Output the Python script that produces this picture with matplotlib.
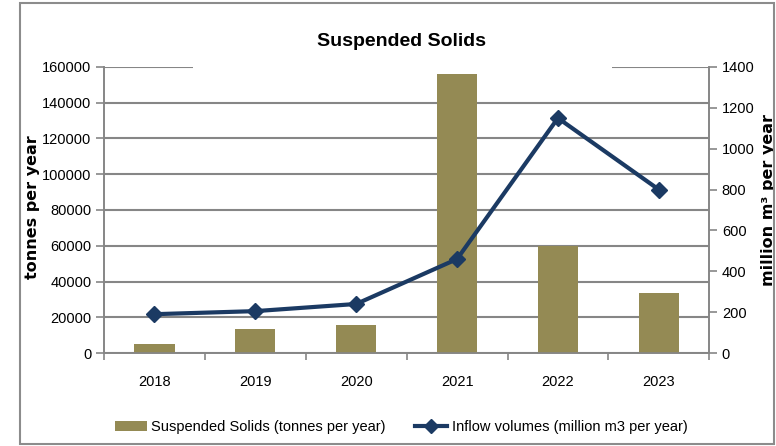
import matplotlib.pyplot as plt
import numpy as np
from matplotlib.patches import Rectangle
from matplotlib.lines import Line2D
from matplotlib.patches import Patch

plt.rcParams['font.family'] = ['Liberation Sans', 'DejaVu Sans']

# Data
years = ['2018', '2019', '2020', '2021', '2022', '2023']
solids = [5000, 13400, 15700, 156000, 59800, 33500]
inflow = [190, 205, 240, 460, 1150, 800]

bar_color = '#948A54'
line_color = '#1B3A63'
grid_color = '#868686'

fig = plt.figure(figsize=(7.76, 4.46), dpi=100)
ax = fig.add_axes([0.134, 0.2085, 0.78, 0.6413])
ax2 = ax.twinx()

x = np.arange(len(years))

# Bars on the left axis
ax.bar(x, solids, width=0.4, color=bar_color, zorder=3)
ax.set_ylim(0, 160000)
ax.set_yticks(np.arange(0, 160001, 20000))
ax.set_xlim(-0.5, len(years) - 0.5)
ax.set_xticks(x)
ax.set_xticklabels(years)
ax.set_xticks(np.arange(-0.5, len(years), 1), minor=True)
ax.tick_params(axis='x', which='major', length=0, pad=16, labelsize=10.5)
ax.tick_params(axis='x', which='minor', length=5, color=grid_color, width=1.2)
ax.tick_params(axis='y', length=6, color=grid_color, width=1.2, labelsize=10.5, pad=3)
ax.yaxis.grid(True, color=grid_color, linewidth=1.5, zorder=0)
ax.set_axisbelow(True)
ax.set_ylabel('tonnes per year', fontsize=11.5, fontweight='bold', family=['DejaVu Sans'])
ax.yaxis.set_label_coords(-0.105, 0.51)

# Line on the right axis
ax2.plot(x, inflow, color=line_color, linewidth=3, marker='D', markersize=8, zorder=4)
ax2.set_ylim(0, 1400)
ax2.set_yticks(np.arange(0, 1401, 200))
ax2.tick_params(axis='y', length=6, color=grid_color, width=1.2, labelsize=10.5, pad=3)
ax2.set_ylabel('million m³ per year', fontsize=11.5, fontweight='bold', family=['DejaVu Sans'])
ax2.yaxis.set_label_coords(1.086, 0.535)

for a in (ax, ax2):
    a.spines['top'].set_visible(False)
    for s in ('left', 'right', 'bottom'):
        a.spines[s].set_color(grid_color)
        a.spines[s].set_linewidth(1.2)

# White title area covering the top gridline, like the original
fig.add_artist(Rectangle((193 / 776, 1 - 74 / 446), (612 - 193) / 776, 44 / 446,
                         transform=fig.transFigure, facecolor='white', edgecolor='none', zorder=5))
fig.text(0.517, 1 - 42 / 446, 'Suspended Solids', ha='center', va='center',
         fontsize=14, fontweight='bold', zorder=6)

# Legend
handles = [Patch(facecolor=bar_color, label='Suspended Solids (tonnes per year)'),
           Line2D([0], [0], color=line_color, linewidth=3, marker='D', markersize=7,
                  label='Inflow volumes (million m3 per year)')]
fig.legend(handles=handles, loc='center', bbox_to_anchor=(0.517, 1 - 427 / 446), ncol=2,
           frameon=False, fontsize=10.5, handlelength=2.2, handletextpad=0.3, columnspacing=2.0)

# Outer chart border
fig.add_artist(Rectangle((20 / 776, 2 / 446), 754 / 776, 441 / 446, transform=fig.transFigure,
                         facecolor='none', edgecolor='#8c8c8c', linewidth=1.5, zorder=7))

fig.savefig('out.png', dpi=100)
